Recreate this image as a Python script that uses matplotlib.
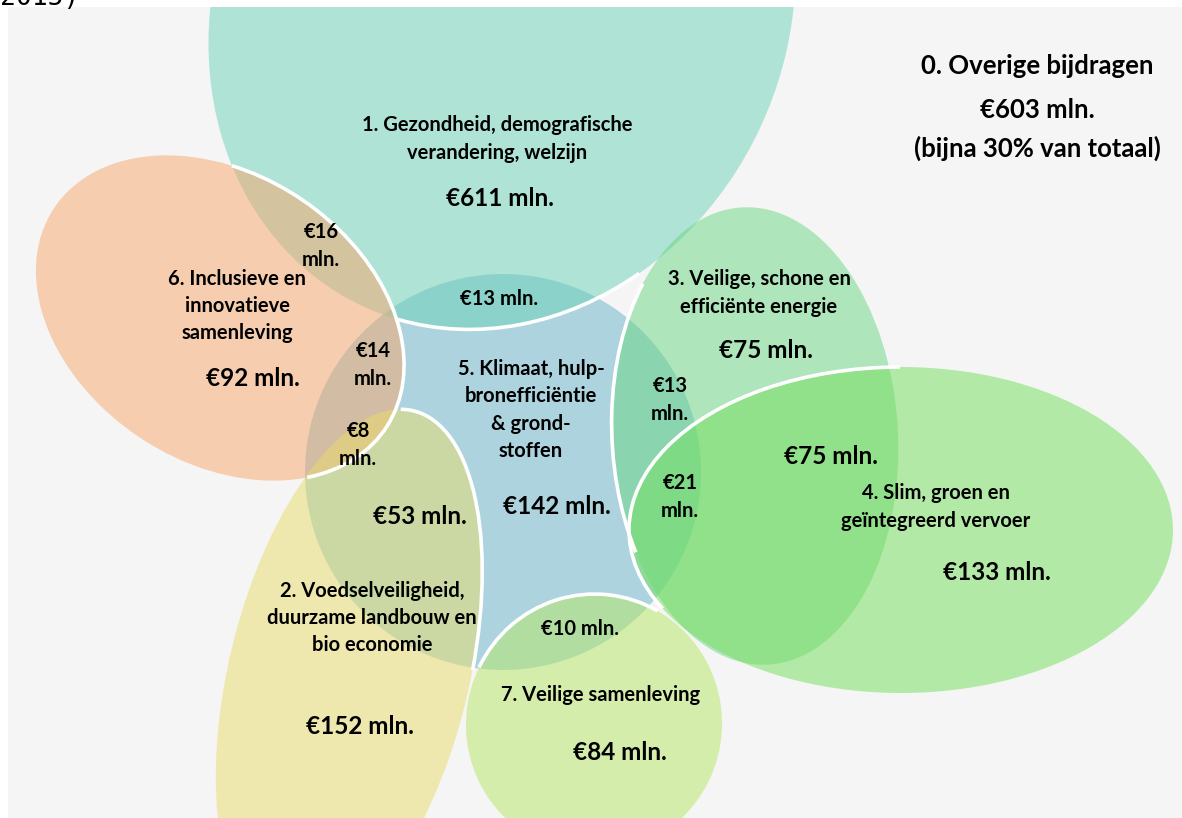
import numpy as np
import matplotlib
matplotlib.use("Agg")
import matplotlib.pyplot as plt
from matplotlib.patches import Ellipse, Arc, Rectangle

plt.rcParams['font.family'] = ['Lato', 'DejaVu Sans']

# --- budget per theme (mln euro) ---
themes = [
    "1. Gezondheid, demografische\nverandering, welzijn",
    "2. Voedselveiligheid,\nduurzame landbouw en\nbio economie",
    "3. Veilige, schone en\nefficiënte energie",
    "4. Slim, groen en\ngeïntegreerd vervoer",
    "5. Klimaat, hulp-\nbronefficiëntie\n& grond-\nstoffen",
    "6. Inclusieve en\ninnovatieve\nsamenleving",
    "7. Veilige samenleving",
]
budgets = [611, 152, 75, 133, 142, 92, 84]

# overlap between themes (mln euro)
overlap_pairs = ["1-6", "1-5", "6-5", "6-2", "3-5", "3-4", "4-5", "2-5", "5-7"]
overlap_values = [16, 13, 14, 8, 13, 75, 21, 53, 10]
overlap_twoline = [True, False, True, True, True, False, True, False, False]

other_label = "0. Overige bijdragen"
other_value = 603
other_note = "(bijna 30% van totaal)"

# shape per theme: centre, width, height, angle, colour
shapes = {
    5: ((503, 472), 396, 396, 0, "#67b3cb"),
    1: ((502, 7), 660, 570, -65, "#6bd3b7"),
    6: ((220, 318), 398, 288, 33.4, "#f7a76b"),
    2: ((349, 674), 542, 240, -76.2, "#ebdd69"),
    3: ((755, 436), 458, 286, -93.3, "#69d783"),
    4: ((901, 530), 544, 326, 0, "#73df5b"),
    7: ((594, 724), 260, 256, -80.6, "#b7e763"),
}

# white borders: (theme, from, to) walking clockwise on screen
borders = [
    (6, (232, 165), (307, 477)),
    (1, (640, 275), (397, 322)),
    (2, (400, 413), (473, 670)),
    (3, (628, 560), (640, 280)),
    (4, (658, 610), (900, 368)),
    (7, (478, 667), (658, 610)),
]

# label spots
theme_xy = {1: (497, 139), 2: (372, 618), 3: (759, 293), 4: (936, 507),
            5: (531, 410), 6: (237, 306), 7: (601, 695)}
budget_xy = {1: (500, 198), 2: (360, 727), 3: (766, 350), 4: (997, 572),
             5: (557, 507), 6: (253, 379), 7: (620, 753)}
overlap_xy = [(321, 246), (499, 299), (373, 365), (358, 445), (670, 400),
              (831, 456), (680, 497), (420, 516), (580, 629)]


def polar(shape, p):
    (cx, cy), w, h, ang, _ = shape
    t = np.radians(ang)
    dx, dy = p[0] - cx, p[1] - cy
    xr = dx * np.cos(t) + dy * np.sin(t)
    yr = -dx * np.sin(t) + dy * np.cos(t)
    return np.degrees(np.arctan2(yr, xr))


fig = plt.figure(figsize=(11.82, 8.18), dpi=100)
fig.patch.set_facecolor("white")
ax = fig.add_axes([0, 0, 1, 1])
ax.set_xlim(0, 1182)
ax.set_ylim(818, 0)
ax.axis("off")

panel = Rectangle((8, 7), 1174, 811, facecolor="#f5f5f5", edgecolor="none", zorder=0)
ax.add_patch(panel)

for k, (c, w, h, ang, col) in shapes.items():
    e = Ellipse(c, w, h, angle=ang, facecolor=col, edgecolor="none", alpha=0.5, zorder=1)
    ax.add_patch(e)
    e.set_clip_path(panel)

for k, p, q in borders:
    s = shapes[k]
    t1, t2 = polar(s, p), polar(s, q)
    if t2 < t1:
        t2 += 360
    a = Arc(s[0], s[1], s[2], angle=s[3], theta1=t1, theta2=t2,
            color="white", lw=2.6, zorder=2)
    ax.add_patch(a)
    a.set_clip_path(panel)

for k in theme_xy:
    ax.text(*theme_xy[k], themes[k - 1], ha="center", va="center", fontsize=14.5,
            fontweight="bold", linespacing=1.45, zorder=3)
    ax.text(*budget_xy[k], "€%d mln." % budgets[k - 1], ha="center", va="center",
            fontsize=17.5, fontweight="bold", zorder=3)

for (x, y), v, two in zip(overlap_xy, overlap_values, overlap_twoline):
    s = "€%d\nmln." % v if two else "€%d mln." % v
    big = v == 75 or v == 53
    ax.text(x, y, s, ha="center", va="center", linespacing=1.45, zorder=3,
            fontsize=17.5 if big else 14.5, fontweight="bold")

ax.text(1037, 66, other_label, ha="center", va="center", fontsize=18.5, fontweight="bold")
ax.text(1037, 110, "€%d mln." % other_value, ha="center", va="center", fontsize=18.5,
        fontweight="bold")
ax.text(1037, 148, other_note, ha="center", va="center", fontsize=18.5, fontweight="bold")

# caption remnant above the panel
ax.text(0, 5, "2015)", ha="left", va="baseline", fontsize=19, family="DejaVu Sans Mono",
        clip_on=False)

fig.savefig("out.png", dpi=100, facecolor="white")
